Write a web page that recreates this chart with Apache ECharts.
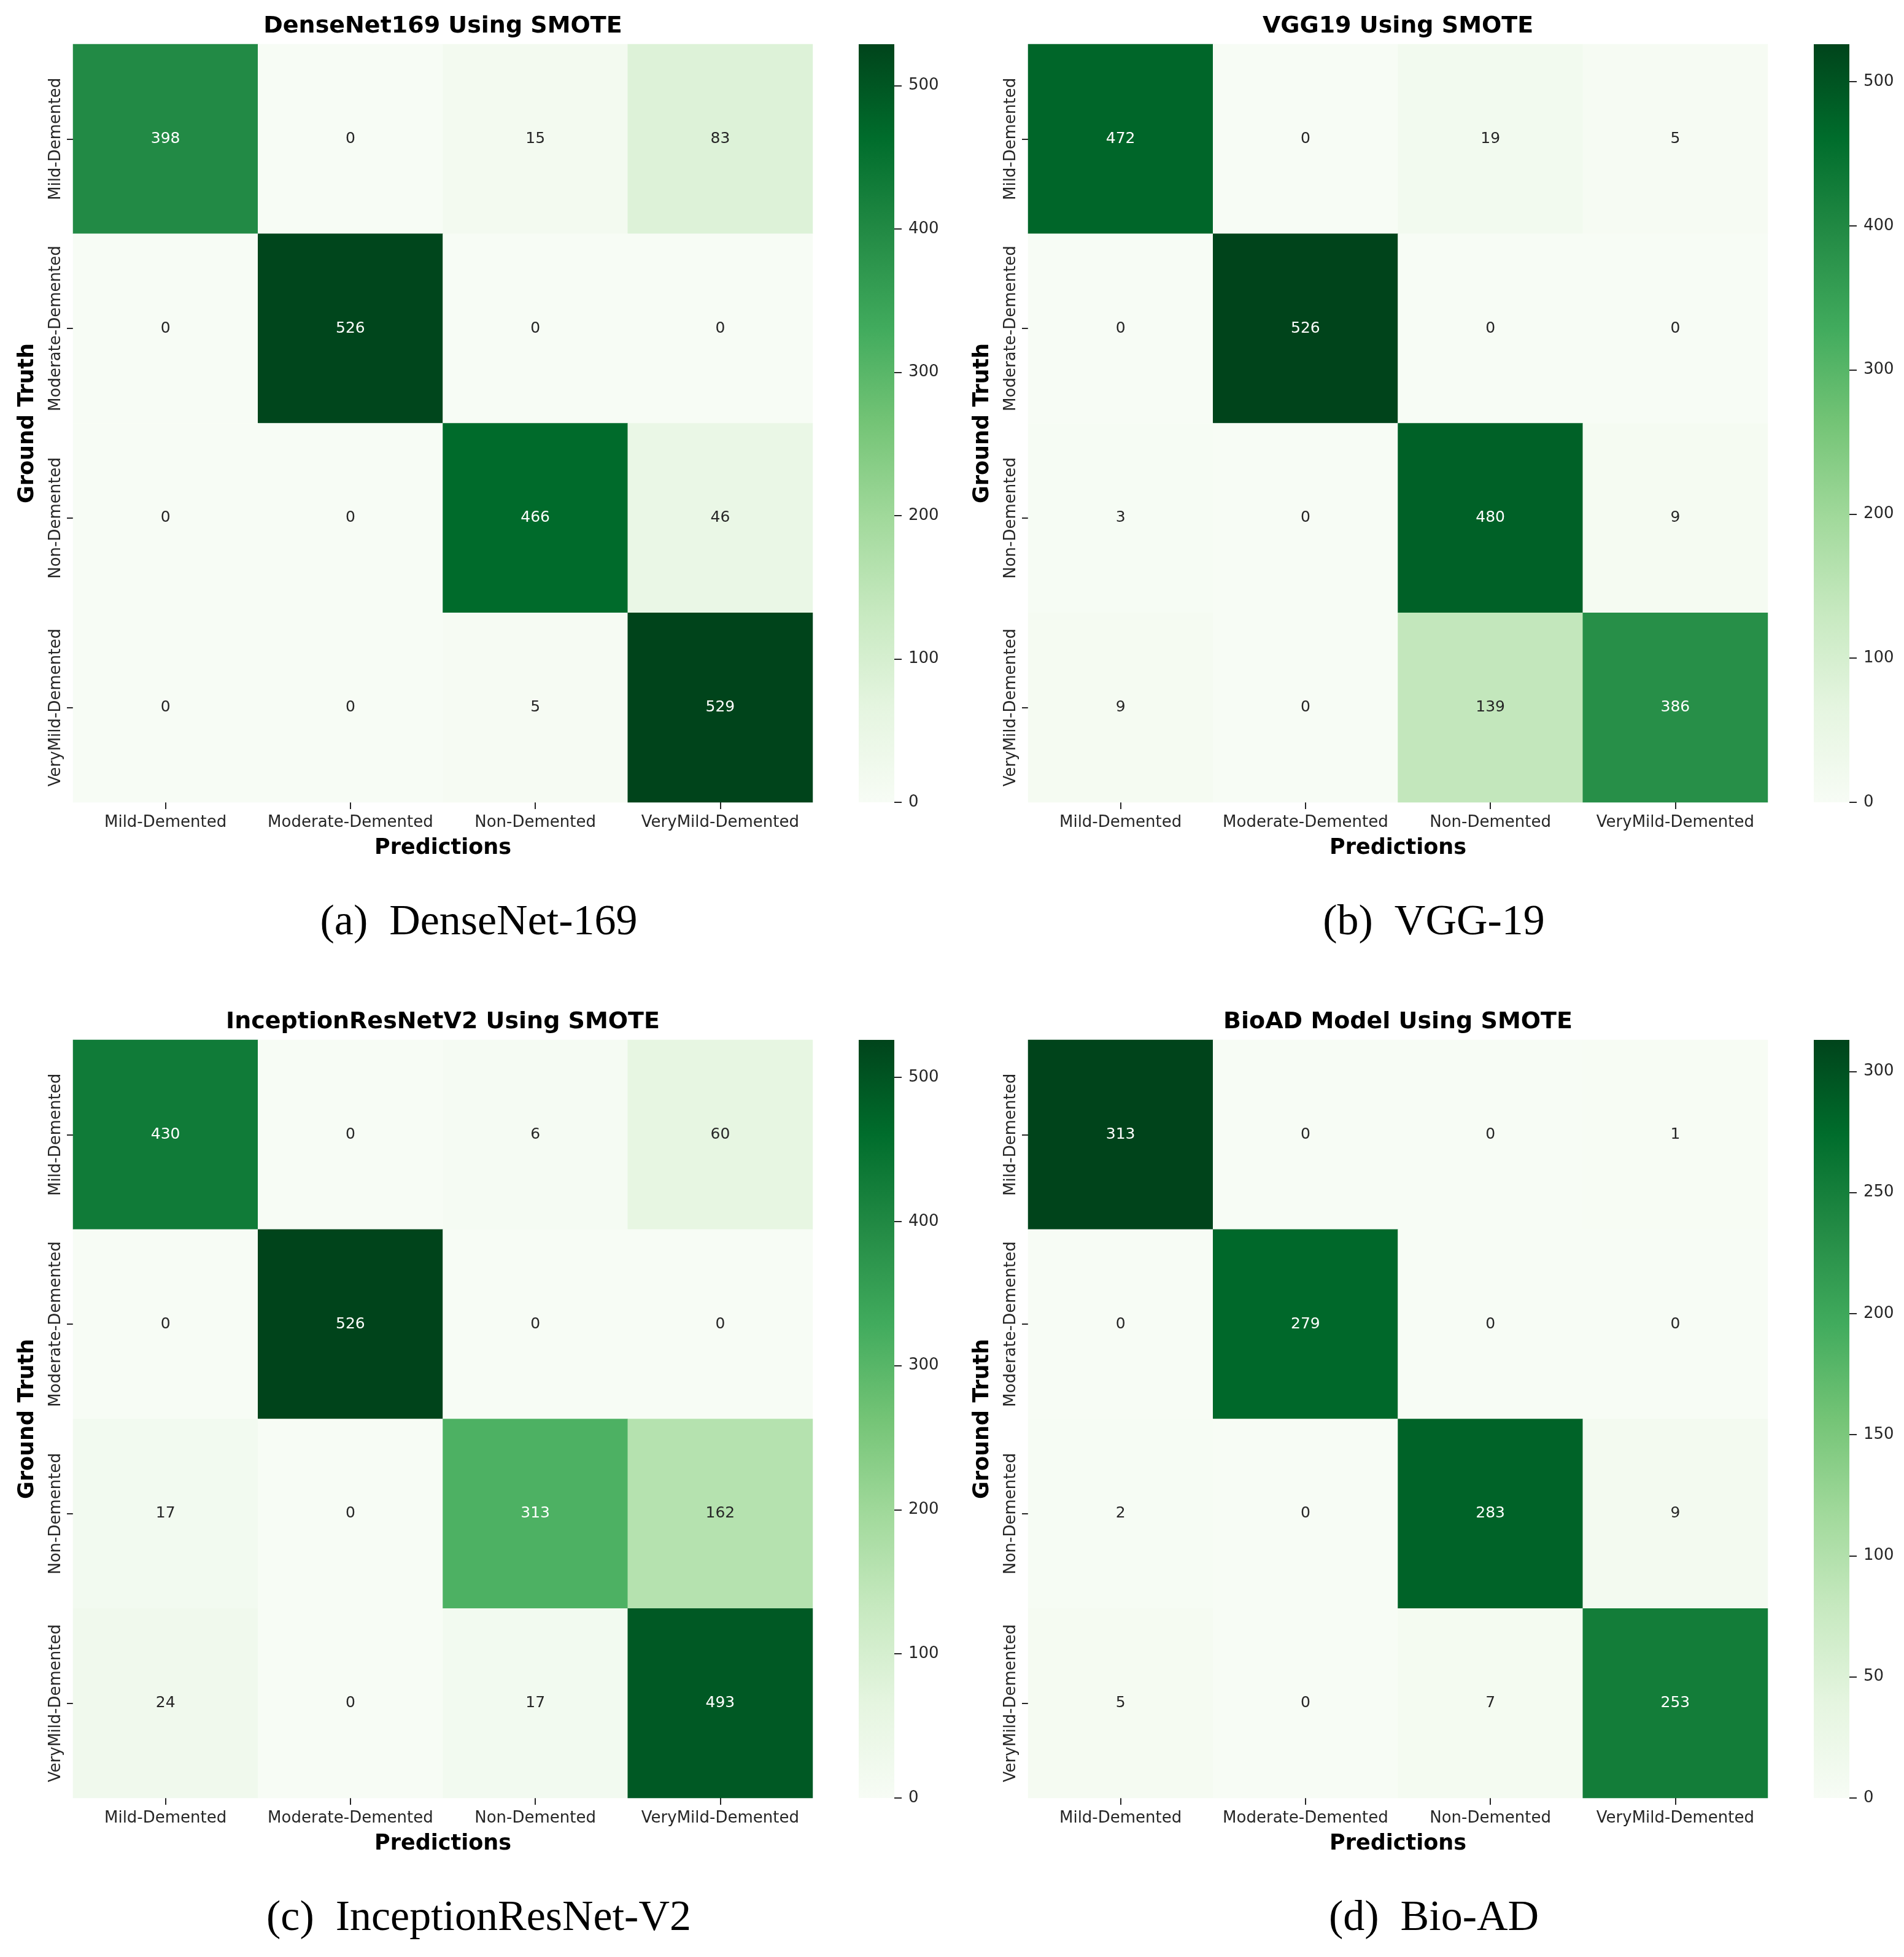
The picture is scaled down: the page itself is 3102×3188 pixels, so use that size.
<!DOCTYPE html>
<html>
<head>
<meta charset="utf-8">
<script src="https://cdn.jsdelivr.net/npm/echarts@6/dist/echarts.min.js"></script>
<style>
  html, body { margin: 0; padding: 0; background: #ffffff; }
  #chart { width: 3102px; height: 3188px; }
</style>
</head>
<body>
<div id="chart"></div>
<script>
// ---------------- data ----------------
const categories = ['Mild-Demented', 'Moderate-Demented', 'Non-Demented', 'VeryMild-Demented'];
const panelTitles = ['DenseNet169 Using SMOTE', 'VGG19 Using SMOTE', 'InceptionResNetV2 Using SMOTE', 'BioAD Model Using SMOTE'];
const captions = ['(a)  DenseNet-169', '(b)  VGG-19', '(c)  InceptionResNet-V2', '(d)  Bio-AD'];
const xAxisName = 'Predictions';
const yAxisName = 'Ground Truth';

// rows = ground truth, columns = predictions
const denseNet169 = [
  [398, 0, 15, 83],
  [0, 526, 0, 0],
  [0, 0, 466, 46],
  [0, 0, 5, 529]
];
const vgg19 = [
  [472, 0, 19, 5],
  [0, 526, 0, 0],
  [3, 0, 480, 9],
  [9, 0, 139, 386]
];
const inceptionResNetV2 = [
  [430, 0, 6, 60],
  [0, 526, 0, 0],
  [17, 0, 313, 162],
  [24, 0, 17, 493]
];
const bioAD = [
  [313, 0, 0, 1],
  [0, 279, 0, 0],
  [2, 0, 283, 9],
  [5, 0, 7, 253]
];
const colorbarTicks100 = [0, 100, 200, 300, 400, 500];
const colorbarTicks50 = [0, 50, 100, 150, 200, 250, 300];

const matrices = [denseNet169, vgg19, inceptionResNetV2, bioAD];
const colorbarTicks = [colorbarTicks100, colorbarTicks100, colorbarTicks100, colorbarTicks50];

// ---------------- style ----------------
const greens = ['#f7fcf5', '#e5f5e0', '#c7e9c0', '#a1d99b', '#74c476', '#41ab5d', '#238b45', '#006d2c', '#00441b'];
const FONT = 'DejaVu Sans';
const SERIF = 'Liberation Serif';
const TICK_COLOR = '#262626';

function hexToRgb(h) {
  return [parseInt(h.slice(1, 3), 16), parseInt(h.slice(3, 5), 16), parseInt(h.slice(5, 7), 16)];
}
function greensAt(f) {
  f = Math.max(0, Math.min(1, f));
  const pos = f * (greens.length - 1);
  const i = Math.min(Math.floor(pos), greens.length - 2);
  const t = pos - i;
  const a = hexToRgb(greens[i]), b = hexToRgb(greens[i + 1]);
  return [0, 1, 2].map(k => a[k] + (b[k] - a[k]) * t);
}
function luminance(rgb) {
  const c = rgb.map(v => {
    v = v / 255;
    return v <= 0.03928 ? v / 12.92 : Math.pow((v + 0.055) / 1.055, 2.4);
  });
  return 0.2126 * c[0] + 0.7152 * c[1] + 0.0722 * c[2];
}

const offsets = [[0, 0], [1556, 0], [0, 1622], [1556, 1622]];
const HM = { left: 119, top: 72, width: 1205, height: 1235 };
const CB = { left: 1399, top: 72, width: 58, height: 1235 };

const grids = [], xAxes = [], yAxes = [], series = [], visualMaps = [], graphics = [];

matrices.forEach((m, p) => {
  const [ox, oy] = offsets[p];
  const cmax = Math.max(...m.flat());
  const gHeat = grids.length;
  grids.push({ left: ox + HM.left, top: oy + HM.top, width: HM.width, height: HM.height });
  const gBar = grids.length;
  grids.push({ left: ox + CB.left, top: oy + CB.top, width: CB.width, height: CB.height });

  const xHeat = xAxes.length;
  xAxes.push({
    type: 'category', gridIndex: gHeat, data: categories, position: 'bottom',
    axisLine: { show: false, onZero: false },
    axisTick: { show: true, alignWithLabel: true, length: 11, lineStyle: { color: TICK_COLOR, width: 2 } },
    axisLabel: { fontFamily: FONT, fontSize: 26, color: TICK_COLOR, margin: 20, interval: 0 },
    splitLine: { show: false }, splitArea: { show: false },
    name: xAxisName, nameLocation: 'middle', nameGap: 57,
    nameTextStyle: { fontFamily: FONT, fontSize: 35, fontWeight: 'bold', color: '#000' }
  });
  const yHeat = yAxes.length;
  yAxes.push({
    type: 'category', gridIndex: gHeat, data: categories, inverse: true,
    axisLine: { show: false, onZero: false },
    axisTick: { show: true, alignWithLabel: true, length: 10, lineStyle: { color: TICK_COLOR, width: 2 } },
    axisLabel: { fontFamily: FONT, fontSize: 26, color: TICK_COLOR, margin: 15, rotate: 90, interval: 0 },
    splitLine: { show: false }, splitArea: { show: false },
    name: yAxisName, nameLocation: 'middle', nameGap: 57, nameRotate: 90,
    nameTextStyle: { fontFamily: FONT, fontSize: 35, fontWeight: 'bold', color: '#000' }
  });
  const xBar = xAxes.length;
  xAxes.push({ type: 'value', gridIndex: gBar, min: 0, max: 1, show: false, axisLine: { onZero: false } });
  const yBar = yAxes.length;
  yAxes.push({
    type: 'value', gridIndex: gBar, min: 0, max: cmax, position: 'right',
    axisLine: { show: false, onZero: false }, splitLine: { show: false },
    axisTick: { show: true, length: 12, customValues: colorbarTicks[p], lineStyle: { color: TICK_COLOR, width: 2 } },
    axisLabel: { fontFamily: FONT, fontSize: 26, color: TICK_COLOR, margin: 23, customValues: colorbarTicks[p] }
  });

  const data = [];
  m.forEach((row, r) => {
    row.forEach((v, c) => {
      const lum = luminance(greensAt(v / cmax));
      data.push({ value: [c, r, v], label: { color: lum > 0.408 ? '#262626' : '#ffffff' } });
    });
  });
  const heatIndex = series.length;
  series.push({
    type: 'heatmap', xAxisIndex: xHeat, yAxisIndex: yHeat,
    data: data,
    label: { show: true, fontFamily: FONT, fontSize: 25, formatter: (pr) => String(pr.value[2]) },
    emphasis: { disabled: true },
    itemStyle: { borderWidth: 0 },
    progressive: 0
  });
  visualMaps.push({
    type: 'continuous', show: false, min: 0, max: cmax, seriesIndex: heatIndex,
    inRange: { color: greens }
  });
  series.push({
    type: 'custom', xAxisIndex: xBar, yAxisIndex: yBar,
    data: [[0, cmax]],
    silent: true,
    renderItem: function (params, api) {
      const p0 = api.coord([0, 0]);
      const p1 = api.coord([1, api.value(1)]);
      return {
        type: 'rect',
        shape: { x: p0[0], y: p1[1], width: p1[0] - p0[0], height: p0[1] - p1[1] },
        style: {
          fill: new echarts.graphic.LinearGradient(0, 1, 0, 0,
            greens.map((col, k) => ({ offset: k / (greens.length - 1), color: col })))
        }
      };
    }
  });

  graphics.push({
    type: 'text', x: ox + HM.left + HM.width / 2, y: oy + 43,
    style: { text: panelTitles[p], fontFamily: FONT, fontSize: 38, fontWeight: 'bold', fill: '#000', textAlign: 'center', textVerticalAlign: 'middle' }
  });
  graphics.push({
    type: 'text', x: ox + 780, y: oy + 1504,
    style: { text: captions[p], fontFamily: SERIF, fontSize: 70, fill: '#000', textAlign: 'center', textVerticalAlign: 'middle' }
  });
});

const chart = echarts.init(document.getElementById('chart'), null, { renderer: 'canvas' });
chart.setOption({
  backgroundColor: '#ffffff',
  animation: false,
  grid: grids,
  xAxis: xAxes,
  yAxis: yAxes,
  visualMap: visualMaps,
  series: series,
  graphic: graphics
});
</script>
</body>
</html>
